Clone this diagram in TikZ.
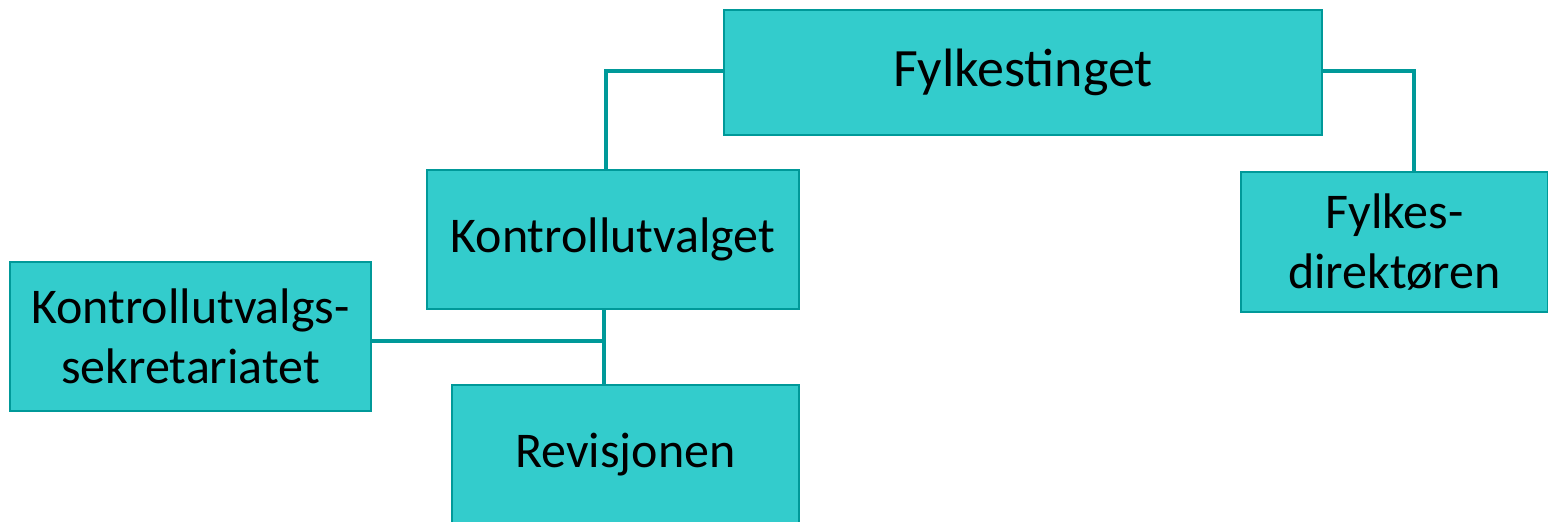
\documentclass[tikz,border=0pt]{standalone}
\usepackage{fontspec}
\setmainfont{Carlito}
\definecolor{boxfill}{HTML}{33CCCC}
\definecolor{boxline}{HTML}{009999}
\begin{document}
\begin{tikzpicture}[x=1pt,y=-1pt,
  orgbox/.style={draw=boxline,fill=boxfill,line width=2pt,inner sep=0pt,
    align=center,font=\fontsize{50}{60}\selectfont},
  link/.style={draw=boxline,line width=3.2pt}]
\useasboundingbox (0,0) rectangle (1548,522);
\clip (0,0) rectangle (1548,522);
\node[orgbox,minimum width=598pt,minimum height=125pt,font=\fontsize{54}{64}\selectfont] (ft) at (1023,72.5) {Fylkestinget};
\node[orgbox,minimum width=372pt,minimum height=139pt] (ku) at (613,239.5) {Kontrollutvalget};
\node[orgbox,minimum width=307pt,minimum height=140pt] (fd) at (1394.5,242) {Fylkes-\\direktøren};
\node[orgbox,minimum width=361pt,minimum height=149pt] (ks) at (190.5,336.5) {Kontrollutvalgs-\\sekretariatet};
\node[orgbox,minimum width=347pt,minimum height=140pt] (rv) at (625.5,455) {Revisjonen};
\coordinate (j) at (604,341);
\draw[link] (ft.west |- 0,71) -| (606,0 |- ku.north);
\draw[link] (ft.east |- 0,71) -| (1414,0 |- fd.north);
\draw[link] (604,0 |- ku.south) -- (604,0 |- rv.north);
\draw[link] (ks.east |- j) -- (j);
\end{tikzpicture}
\end{document}
